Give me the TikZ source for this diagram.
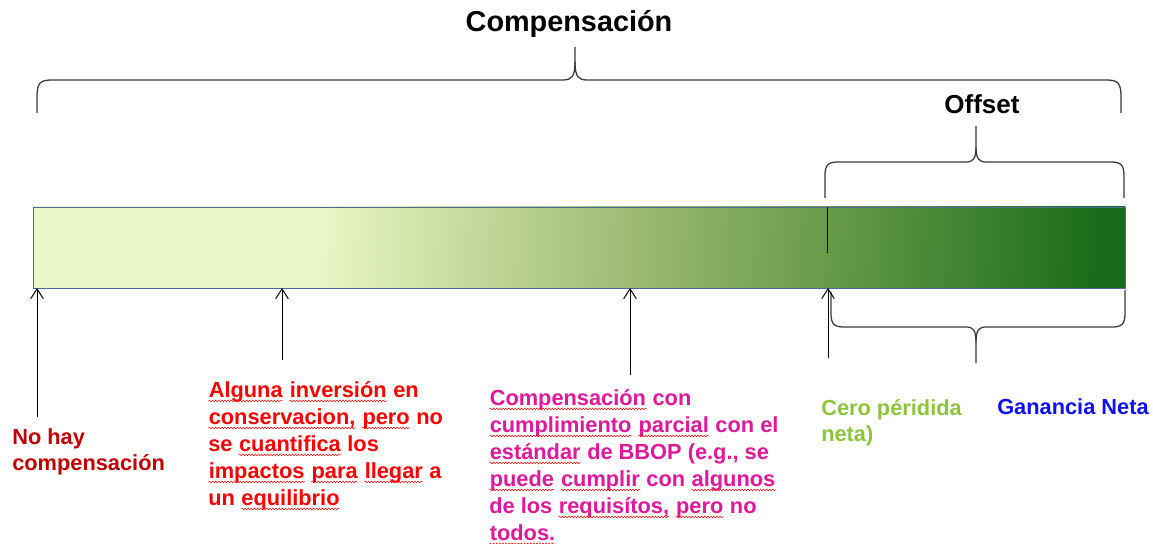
\documentclass[tikz,border=0pt]{standalone}
\usepackage{fontspec}
\setmainfont{Liberation Sans}
\usepackage{tikz}
\usetikzlibrary{arrows.meta, decorations.pathmorphing}

\definecolor{vclaro}{HTML}{ECF8CA}
\definecolor{vmedioA}{HTML}{C8DCA0}
\definecolor{vmedioB}{HTML}{A0BC76}
\definecolor{vmedioC}{HTML}{6A9C4A}
\definecolor{voscuro}{HTML}{1A6C1A}
\definecolor{rojoosc}{HTML}{C00000}
\definecolor{magenta2}{HTML}{E0189B}
\definecolor{verdetxt}{HTML}{8CC43C}
\definecolor{azultxt}{HTML}{1010F0}
\definecolor{gristrazo}{HTML}{3A3A3A}
\definecolor{bordebarra}{HTML}{4F6A9A}

\pgfdeclarehorizontalshading{barra}{100bp}{color(0bp)=(vclaro); color(37bp)=(vclaro); color(44bp)=(vmedioA); color(52bp)=(vmedioB); color(61.5bp)=(vmedioC); color(75bp)=(voscuro); color(100bp)=(voscuro)}

% subrayado ondulado rojo
\newcommand\ondas[1]{\tikz[baseline=(w.base)]{\node[inner sep=0pt, anchor=base] (w) {#1};
	\draw[red, line width=0.35pt, decorate, decoration={snake, amplitude=0.6pt, segment length=2.2pt}] ([yshift=-2.8pt]w.base west) -- ([yshift=-2.8pt]w.base east);}}

\begin{document}
\begin{tikzpicture}[x=0.025cm, y=-0.025cm,
		llave/.style={gristrazo, line width=0.9pt},
		flecha/.style={black, line width=0.7pt, -{Straight Barb[length=7pt,width=9pt]}},
		texto/.style={anchor=base west, inner sep=0pt, align=left, font=\bfseries\fontsize{15.5}{19.2}\selectfont}]
	\useasboundingbox (0,0) rectangle (1153,544);

	% Definir las esquinas de la barra y los puntos de las flechas
	\coordinate (b1) at (33, 207);     % Esquina superior izquierda
	\coordinate (b2) at (1125, 288);   % Esquina inferior derecha
	\coordinate (f1) at (37, 417);     % Sin compensacion
	\coordinate (f2) at (282, 360);    % Alguna inversion
	\coordinate (f3) at (630, 375);    % Cumplimiento parcial
	\coordinate (f4) at (828, 358);    % Cero perdida neta

	% Dibujar la barra con degradado
	\shade[shading=barra, shading angle=-3, draw=bordebarra, line width=0.6pt] (b1) rectangle (b2);
	\draw[black, line width=0.7pt] (827, 207) -- (827, 253);

	% Llave grande (Compensacion)
	\draw[llave] (37,113) -- (37,97) .. controls (37,83) and (40,80) .. (52,80) -- (563,80) .. controls (572,80) and (575,76) .. (575,62) -- (575,47);
	\draw[llave] (575,62) .. controls (575,76) and (578,80) .. (587,80) -- (1106,80) .. controls (1118,80) and (1121,83) .. (1121,97) -- (1121,113);
	\node[font=\bfseries\fontsize{20.5}{24}\selectfont] (comp) at (569, 24) {Compensación};

	% Llave de arriba (Offset)
	\draw[llave] (825,198) -- (825,176) .. controls (825,165) and (828,162) .. (838,162) -- (966,162) .. controls (973,162) and (976,159) .. (976,147) -- (976,126);
	\draw[llave] (976,147) .. controls (976,159) and (979,162) .. (986,162) -- (1111,162) .. controls (1121,162) and (1124,165) .. (1124,176) -- (1124,198);
	\node[font=\bfseries\fontsize{18.5}{22}\selectfont] (offset) at (982, 104) {Offset};

	% Llave de abajo
	\draw[llave] (831,292) -- (831,313) .. controls (831,324) and (834,327) .. (844,327) -- (966,327) .. controls (973,327) and (976,330) .. (976,342) -- (976,363);
	\draw[llave] (976,342) .. controls (976,330) and (979,327) .. (986,327) -- (1112,327) .. controls (1122,327) and (1125,324) .. (1125,313) -- (1125,290);

	% Dibujar las flechas
	\draw[flecha] (f1) -- (f1 |- b2);
	\draw[flecha] (f2) -- (f2 |- b2);
	\draw[flecha] (f3) -- (f3 |- b2);
	\draw[flecha] (f4) -- (f4 |- b2);

	% Textos (base = linea de base de la ultima linea)
	\node[texto, rojoosc] (nohay) at (12, 471) {No hay\\compensación};
	\node[texto, red] (alguna) at (208, 505) {\ondas{Alguna} \ondas{inversión} en\\\ondas{conservacion,} \ondas{pero} no\\se \ondas{cuantifica} los\\\ondas{impactos} \ondas{para} \ondas{llegar} a\\un \ondas{equilibrio}};
	\node[texto, magenta2] (parcial) at (489, 540) {\ondas{Compensación} con\\\ondas{cumplimiento} \ondas{parcial} con el\\\ondas{estándar} de BBOP (e.g., se\\\ondas{puede} \ondas{cumplir} con \ondas{algunos}\\de los \ondas{requisítos,} \ondas{pero} no\\\ondas{todos.}};
	\node[texto, verdetxt] (cero) at (821, 442) {Cero péridida\\neta)};
	\node[texto, azultxt] (ganancia) at (997, 415) {Ganancia Neta};

\end{tikzpicture}
\end{document}
